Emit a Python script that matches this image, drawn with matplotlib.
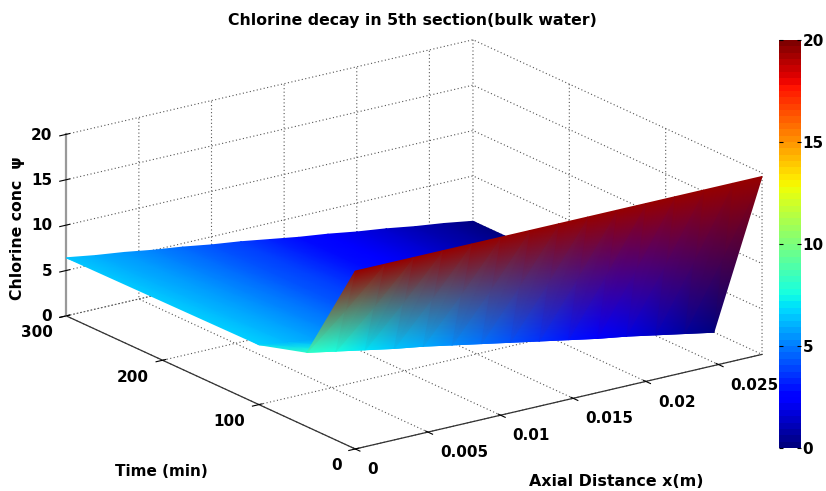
import numpy as np
import matplotlib
matplotlib.use('Agg')
import matplotlib.pyplot as plt
from matplotlib.cm import ScalarMappable
from matplotlib.colors import Normalize
from mpl_toolkits.mplot3d import proj3d

# values
axial_x = [0.0, 0.002, 0.004, 0.006, 0.008, 0.01, 0.012, 0.014,
           0.016, 0.018, 0.02, 0.022, 0.024, 0.026, 0.028]
time_rows = [300, 100, 50, 0]  # back to front, so the wall paints last
conc_t300 = [6.4, 5.9, 5.5, 5.0, 4.6, 4.1, 3.7, 3.2, 2.7, 2.3, 1.8, 1.4, 0.9, 0.5, 0.0]
conc_t100 = [6.6, 6.1, 5.7, 5.2, 4.7, 4.2, 3.8, 3.3, 2.8, 2.4, 1.9, 1.4, 0.9, 0.5, 0.0]
conc_t50 = [8.2, 7.6, 7.0, 6.4, 5.9, 5.3, 4.7, 4.1, 3.5, 2.9, 2.3, 1.8, 1.2, 0.6, 0.0]
conc_t0 = [19.6] * 15

x_ticks = [0, 0.005, 0.01, 0.015, 0.02, 0.025]
x_ticklabels = ['0', '0.005', '0.01', '0.015', '0.02', '0.025']
t_ticks = [0, 100, 200, 300]
z_ticks = [0, 5, 10, 15, 20]

W, H = 826, 491
grid_style = (0, (1, 2.2))
plt.rcParams['font.family'] = 'DejaVu Sans'
plt.rcParams['font.weight'] = 'bold'
plt.rcParams['grid.linestyle'] = grid_style
plt.rcParams['grid.color'] = '#555555'
plt.rcParams['grid.linewidth'] = 0.8

fig = plt.figure(figsize=(W / 100, H / 100), dpi=100)
side = 491
cx, cy = 407.5, H - 251
ax = fig.add_axes([(cx - side / 2) / W, (cy - side / 2) / H, side / W, side / H],
                  projection='3d', proj_type='ortho')
ax.set_xlim(0, 0.028, view_margin=0)
ax.set_ylim(0, 300, view_margin=0)
ax.set_zlim(0, 20, view_margin=0)
ax.set_box_aspect((1, 1, 0.385), zoom=1.446)
ax.view_init(elev=19.1, azim=-125.4)
ax.patch.set_alpha(0)

ax.set_xticks(x_ticks)
ax.set_xticklabels(x_ticklabels)
ax.set_yticks(t_ticks)
ax.set_zticks(z_ticks)
for a in (ax.xaxis, ax.yaxis, ax.zaxis):
    a.set_pane_color((1, 1, 1, 0))
    a.pane.set_edgecolor('#555555')
    a.pane.set_linestyle(grid_style)
    a.pane.set_linewidth(0.8)
    a.line.set_color('#333333')
    a.line.set_linewidth(0.9)
ax.zaxis.line.set_color('#999999')
ax.zaxis.line.set_linewidth(1.6)
ax.tick_params(labelsize=11)
ax.xaxis.set_tick_params(pad=-0.3)
ax.yaxis.set_tick_params(pad=-1.8)
ax.zaxis.set_tick_params(pad=-4.3)
for lbl in ax.get_xticklabels():
    lbl.set_ha('left')
for lbl in ax.get_yticklabels():
    lbl.set_ha('right')
for lbl in ax.get_zticklabels():
    lbl.set_ha('right')
    lbl.set_va('center_baseline')

# surface: gouraud mesh on the projected grid, like matlab interp shading
conc = np.array([conc_t300, conc_t100, conc_t50, conc_t0])
xg, tg = np.meshgrid(axial_x, time_rows)
xp, yp, _ = proj3d.proj_transform(xg.ravel(), tg.ravel(), conc.ravel(), ax.get_proj())
xp = np.asarray(xp).reshape(conc.shape)
yp = np.asarray(yp).reshape(conc.shape)

ov = fig.add_axes(ax.get_position(), facecolor='none')
ov.set_axis_off()
ov.pcolormesh(xp, yp, conc, shading='gouraud', cmap='jet', vmin=0, vmax=20,
              transform=ax.transData, clip_on=False)

cax = fig.add_axes([779 / W, (H - 448) / H, 22 / W, 408 / H])
sm = ScalarMappable(Normalize(0, 20), plt.get_cmap('jet', 64))
cb = fig.colorbar(sm, cax=cax, ticks=z_ticks)
cb.outline.set_visible(False)
cax.tick_params(direction='in', length=3, width=0.8, left=True, right=True, labelsize=11, pad=1)

fig.text(412 / W, 1 - 21 / H, 'Chlorine decay in 5th section(bulk water)', ha='center', va='center', fontsize=11.3)
fig.text(616 / W, 1 - 481 / H, 'Axial Distance x(m)', ha='center', va='center', fontsize=11.4)
fig.text(161 / W, 1 - 471 / H, 'Time (min)', ha='center', va='center', fontsize=11)
fig.text(18 / W, 1 - 228 / H, 'Chlorine conc  \u03c8', ha='center', va='center', rotation=90, fontsize=11.3)

fig.savefig('out.png', dpi=100)
